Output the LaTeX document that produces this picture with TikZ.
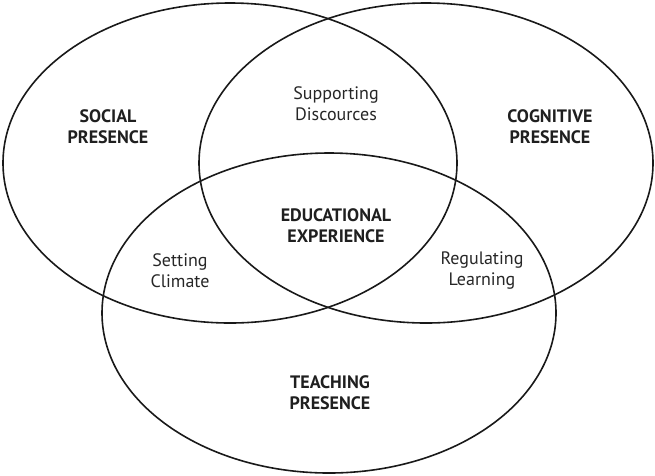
\documentclass[tikz,border=0pt]{standalone}
\usepackage{fontspec}
\setmainfont{PT Sans}
\usepackage{tikz}
\usetikzlibrary{shapes.geometric}
\tikzstyle{ring} = [draw, ellipse, line width=1.6pt, color=black!90, minimum width=454pt, minimum height=320pt, inner sep=0pt]
\tikzstyle{presence} = [align=center, text=black!88, font=\fontsize{18}{21}\selectfont\bfseries]
\tikzstyle{overlap} = [align=center, text=black!85, font=\fontsize{18}{21}\selectfont]

\begin{document}
\begin{tikzpicture}[x=1pt,y=-1pt]
\useasboundingbox (0,0) rectangle (655,475);

\foreach \n/\p in {social/{(230,163)},cognitive/{(426,163)},teaching/{(329,313)}}
\node[ring] (\n) at \p {};

\node[presence] (SP) at (108,127) {SOCIAL\\PRESENCE};
\node[presence] (CP) at (550,127) {COGNITIVE\\PRESENCE};
\node[presence] (TP) at (330,393) {TEACHING\\PRESENCE};
\node[presence] (EE) at (336,226) {EDUCATIONAL\\EXPERIENCE};

\node[overlap] (SD) at (336,104) {Supporting\\Discources};
\node[overlap] (SC) at (180,271) {Setting\\Climate};
\node[overlap] (RL) at (482,271) {Regulating\\Learning};

\end{tikzpicture}
\end{document}
